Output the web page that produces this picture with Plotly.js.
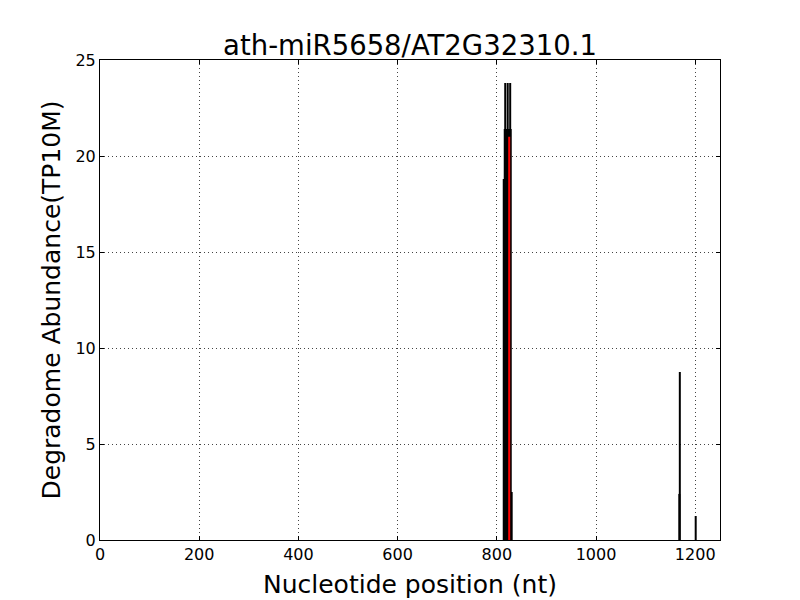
<!DOCTYPE html>
<html>
<head>
<meta charset="utf-8">
<script src="https://cdn.plot.ly/plotly-3.0.1.min.js"></script>
<style>html,body{margin:0;padding:0;background:#fff;}#chart{width:800px;height:600px;}</style>
</head>
<body>
<div id="chart"></div>
<script>
// Degradome reads (black) and the target site (red)
var positions = [814, 816, 817, 818, 819, 820, 821, 822, 823, 824, 826, 827, 828, 830, 1168, 1169, 1201];
var abundance = [18.8, 21.4, 23.8, 21.4, 21.4, 21.4, 21.4, 23.8, 21.4, 21.4, 21.4, 23.8, 21.4, 2.5, 2.4, 8.75, 1.25];
var sitePositions = [825];
var siteAbundance = [21.0];
var xTicks = [0, 200, 400, 600, 800, 1000, 1200];
var yTicks = [0, 5, 10, 15, 20, 25];

function stems(xs, ys) {
  var X = [], Y = [];
  for (var i = 0; i < xs.length; i++) {
    X.push(xs[i], xs[i], null);
    Y.push(0, ys[i], null);
  }
  return {x: X, y: Y};
}
var b = stems(positions, abundance);
var r = stems(sitePositions, siteAbundance);
var traces = [
  {x: b.x, y: b.y, mode: 'lines', line: {color: '#000000', width: 2}, hoverinfo: 'skip', showlegend: false},
  {x: r.x, y: r.y, mode: 'lines', line: {color: '#ff0000', width: 2}, hoverinfo: 'skip', showlegend: false}
];
var axisCommon = {
  showline: true, mirror: 'ticks', linecolor: '#000', linewidth: 1,
  ticks: 'inside', ticklen: 4, tickcolor: '#000',
  showgrid: true, gridcolor: '#444', griddash: '1px,3px', gridwidth: 1,
  zeroline: false, tickfont: {size: 16, color: '#000'}
};
var layout = {
  width: 800, height: 600,
  margin: {l: 100, r: 80, t: 60, b: 60},
  paper_bgcolor: '#fff', plot_bgcolor: '#fff',
  font: {family: 'DejaVu Sans, sans-serif', color: '#000'},
  title: {text: 'ath-miR5658/AT2G32310.1', font: {size: 27.5, color: '#000'}, xref: 'paper', x: 0.5, xanchor: 'center', y: 0.925, yanchor: 'middle'},
  xaxis: Object.assign({}, axisCommon, {
    range: [0, 1250], tickvals: xTicks, ticktext: xTicks.map(String),
    title: {text: 'Nucleotide position (nt)', font: {size: 25, color: '#000'}, standoff: 12}
  }),
  yaxis: Object.assign({}, axisCommon, {
    range: [0, 25], tickvals: yTicks, ticktext: yTicks.map(String),
    title: {text: 'Degradome Abundance(TP10M)', font: {size: 25, color: '#000'}, standoff: 7}
  })
};
Plotly.newPlot('chart', traces, layout, {displayModeBar: false, staticPlot: true});
</script>
</body>
</html>
